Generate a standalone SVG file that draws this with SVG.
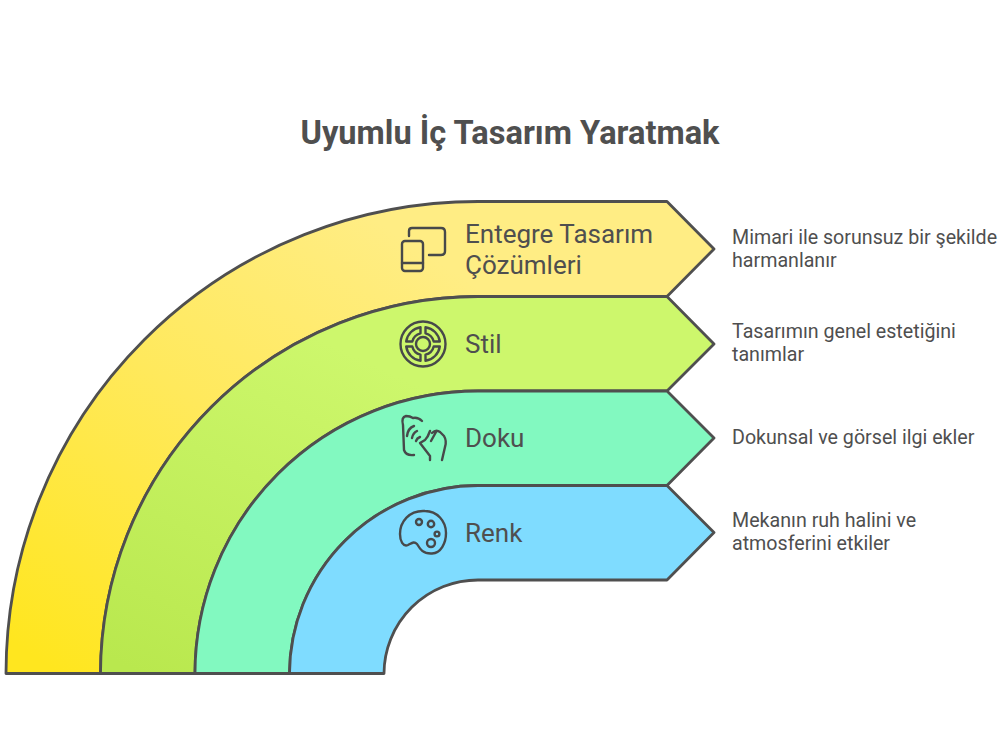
<svg xmlns="http://www.w3.org/2000/svg" width="1000" height="750" viewBox="0 0 1000 750">
<style>
.ring{stroke:#4f4f4f;stroke-width:2.8;stroke-linejoin:round}
.ic{fill:none;stroke:#47494a;stroke-width:2.4;stroke-linecap:round;stroke-linejoin:round}
text{font-family:Roboto,"Liberation Sans",sans-serif;fill:#4f4f4f}
.lab{font-size:26px}
.desc{font-size:19.65px}
</style>
<defs>
<linearGradient id="gy" gradientUnits="userSpaceOnUse" x1="60" y1="673" x2="360" y2="210"><stop offset="0" stop-color="#ffe61f"/><stop offset="0.55" stop-color="#ffe95c"/><stop offset="1" stop-color="#ffed84"/></linearGradient>
<linearGradient id="gg" gradientUnits="userSpaceOnUse" x1="140" y1="673" x2="300" y2="330"><stop offset="0" stop-color="#b9e84e"/><stop offset="1" stop-color="#cdf76c"/></linearGradient>
<path id="seg" d="M2.5 -16.800A17 17 0 0 1 16.800 -2.500H10.700A11 11 0 0 0 2.500 -10.700Z"/>
</defs>
<rect width="1000" height="750" fill="#fff"/>
<text x="510" y="144" text-anchor="middle" font-size="32.6" font-weight="700">Uyumlu İç Tasarım Yaratmak</text>
<g id="connectors"></g>
<g id="node-entegre">
<path class="ring" fill="url(#gy)" d="M6 673.5A472 472 0 0 1 478 201.5H667L714 249L667 296.5H478A378 378 0 0 0 100.5 673.5Z"/>
<g class="ic"><path d="M409 236V231Q409 228 412 228H441Q445 228 445 232V251Q445 255 441 255H429"/><rect x="402" y="241" width="21" height="30" rx="3"/><path d="M402 263H423"/></g>
<text class="lab" x="465" y="243">Entegre Tasarım</text><text class="lab" x="465" y="274">Çözümleri</text>
<text class="desc" x="732" y="244">Mimari ile sorunsuz bir şekilde</text><text class="desc" x="732" y="267">harmanlanır</text>
</g>
<g id="node-stil">
<path class="ring" fill="url(#gg)" d="M100.5 673.5A378 378 0 0 1 478 296.5H667L714 344L667 391H478A283 283 0 0 0 195 673.5Z"/>
<g class="ic" transform="translate(423 344)"><circle r="22.5"/><circle r="7"/><use href="#seg"/><use href="#seg" transform="rotate(90)"/><use href="#seg" transform="rotate(180)"/><use href="#seg" transform="rotate(270)"/></g>
<text class="lab" x="465" y="353">Stil</text>
<text class="desc" x="732" y="338">Tasarımın genel estetiğini</text><text class="desc" x="732" y="361">tanımlar</text>
</g>
<g id="node-doku">
<path class="ring" fill="#82f9c0" d="M195 673.5A283 283 0 0 1 478 391H667L714 438L667 485.5H478A189 189 0 0 0 289.500 673.500Z"/>
<g class="ic"><path d="M414 455Q406 456 404 450L403 425Q401 417 406 416Q410 416 413 418Q418 417 422 421"/><path d="M407 436Q408 428 414 426M412 438Q413 433 417 431M416 441Q417 438 420 437"/><path d="M420 443L430 456L430 460M430 431Q428 437 425 440L420 443M432 433Q436 429 440 432L444 436Q447 441 445 447L442 460M436 432L431 441"/></g>
<text class="lab" x="465" y="447">Doku</text>
<text class="desc" x="732" y="444">Dokunsal ve görsel ilgi ekler</text>
</g>
<g id="node-renk">
<path class="ring" fill="#7fdcff" d="M289.500 673.500A189 189 0 0 1 478 485.5H667L714 532.500L667 580H478A94 94 0 0 0 384 673.500Z"/>
<g class="ic"><path d="M425 511C409 510 400 522 400 534C400 541 403 547 408 545C412 543 414 541 417 544C420 549 423 554 432 553.500C441 553 446 543 446 533C446 521 437 511 425 511Z"/><circle cx="419" cy="522" r="3"/><circle cx="431" cy="524" r="3.200"/><circle cx="437" cy="534" r="2.400"/><circle cx="431" cy="543" r="4"/></g>
<text class="lab" x="465" y="542">Renk</text>
<text class="desc" x="732" y="527">Mekanın ruh halini ve</text><text class="desc" x="732" y="550">atmosferini etkiler</text>
</g>
</svg>
